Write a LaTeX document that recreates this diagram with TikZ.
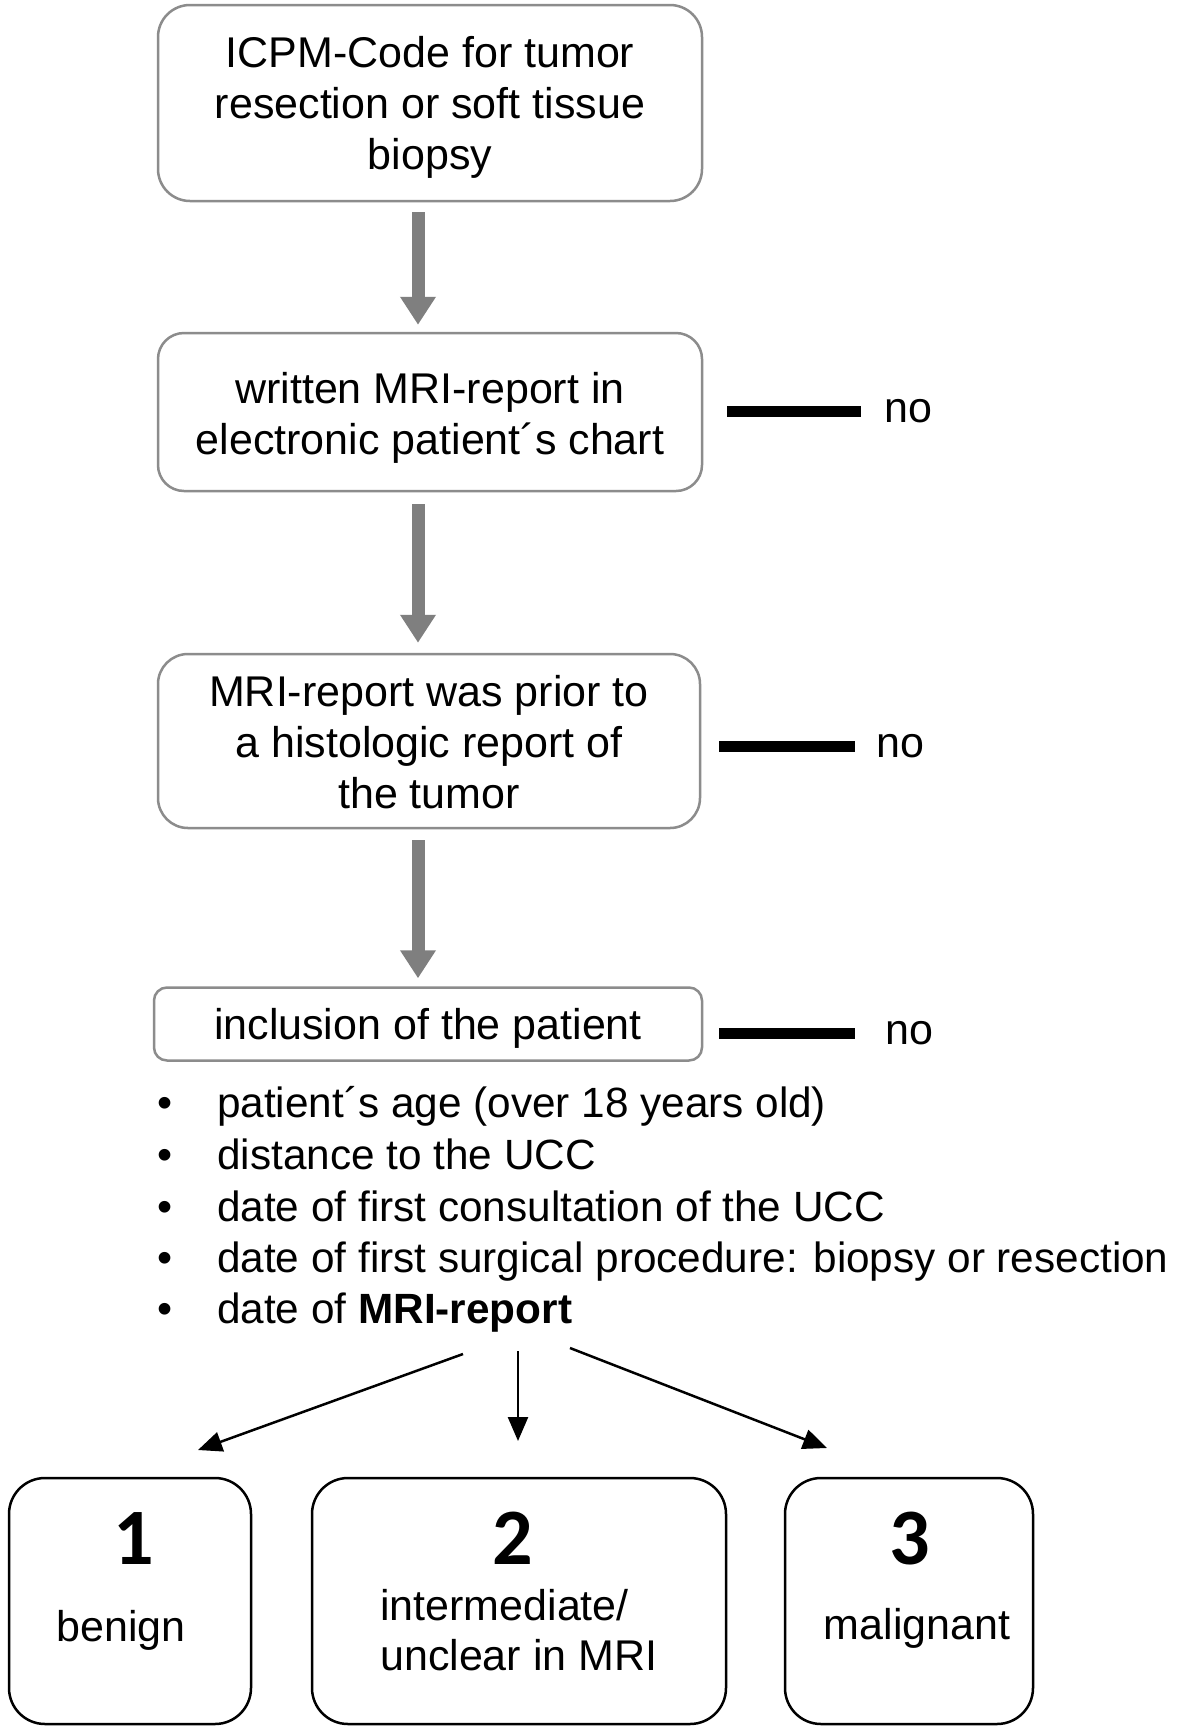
\documentclass[tikz,border=0pt]{standalone}
\usepackage{fontspec}
\setmainfont{Liberation Sans}
\newfontfamily\digitfont{Carlito}
\usetikzlibrary{arrows.meta}
\definecolor{boxgray}{HTML}{8C8C8C}
\definecolor{arrowgray}{HTML}{7F7F7F}
\begin{document}
\begin{tikzpicture}[x=1pt,y=-1pt,
  font=\fontsize{43pt}{51pt}\selectfont,
  flowbox/.style={draw=boxgray, line width=2.5pt, rounded corners=30pt, inner sep=0pt},
  boxtext/.style={align=center, inner sep=0pt},
  resultbox/.style={draw=black, line width=2.5pt, rounded corners=36pt, inner sep=0pt},
  grayarrow/.style={draw=arrowgray, line width=13pt, -{Triangle[width=34pt,length=28pt]}},
  nobar/.style={draw=black, line width=11pt},
  blackarrow/.style={draw=black, line width=2.5pt, -{Triangle[width=20pt,length=24pt]}},
  notext/.style={inner sep=0pt},
  listtext/.style={anchor=base west, inner sep=0pt, font=\fontsize{42.3pt}{51pt}\selectfont},
  digittext/.style={anchor=base, inner sep=0pt, font=\digitfont\bfseries\fontsize{80pt}{82pt}\selectfont},
  restext/.style={inner sep=0pt}]
\fill[white] (0,0) rectangle (1180,1730);
\useasboundingbox (0,0) rectangle (1180,1730);

% flow boxes
\node[flowbox, minimum width=544pt, minimum height=196pt, rounded corners=32pt] (box1) at (430,103) {};
\node[flowbox, minimum width=544pt, minimum height=158pt, rounded corners=26pt] (box2) at (430,412) {};
\node[flowbox, minimum width=542pt, minimum height=174pt, rounded corners=30pt] (box3) at (429,741) {};
\node[flowbox, minimum width=548pt, minimum height=73pt, rounded corners=13pt] (box4) at (428,1024) {};
\node[boxtext] (box1t) at (430,107.5) {ICPM-Code for tumor\\resection or soft tissue\\biopsy};
\node[boxtext] (box2t) at (430,417.5) {written MRI-report in\\electronic patient´s chart};
\node[boxtext] (box3t) at (429,742.5) {MRI-report was prior to\\a histologic report of\\the tumor};
\node[boxtext] (box4t) at (428,1028.5) {inclusion of the patient};

% gray arrows
\coordinate (ax) at (418,0);
\draw[grayarrow, shorten <=10pt, shorten >=7pt] (box1.south -| ax) -- (box2.north -| ax);
\draw[grayarrow, shorten <=12pt, shorten >=10pt] (box2.south -| ax) -- (box3.north -| ax);
\draw[grayarrow, shorten <=11pt, shorten >=8pt] (box3.south -| ax) -- (box4.north -| ax);

% "no" exits
\node[notext] (no1) at (908,411) {no};
\node[notext] (no2) at (900,746) {no};
\node[notext] (no3) at (909,1033) {no};
\draw[nobar, shorten <=24pt, shorten >=23pt] (box2.east |- no1.west) -- (no1.west);
\draw[nobar, shorten <=18pt, shorten >=21pt] (box3.east |- no2.west) -- (no2.west);
\draw[nobar, shorten <=16pt, shorten >=30pt] (box4.east |- no3.west) -- (no3.west);

% bullet list
\node[anchor=base, inner sep=0pt] (d1) at (165,1117) {•};
\node[anchor=base, inner sep=0pt] (d2) at (165,1169) {•};
\node[anchor=base, inner sep=0pt] (d3) at (165,1221) {•};
\node[anchor=base, inner sep=0pt] (d4) at (165,1272) {•};
\node[anchor=base, inner sep=0pt] (d5) at (165,1323) {•};
\node[listtext] (l1) at (217,1117) {patient´s age (over 18 years old)};
\node[listtext] (l2) at (217,1169) {distance to the UCC};
\node[listtext] (l3) at (217,1221) {date of first consultation of the UCC};
\node[listtext] (l4) at (217,1272) {date of first surgical procedure: biopsy or resection};
\node[listtext] (l5) at (217,1323) {date of \textbf{MRI-report}};

% fan arrows
\coordinate (s1) at (463,1354);
\coordinate (e1) at (198,1450);
\coordinate (s2) at (518,1351);
\coordinate (e2) at (518,1441);
\coordinate (s3) at (570,1348);
\coordinate (e3) at (827,1448);
\draw[blackarrow] (s1) -- (e1);
\draw[blackarrow] (s2) -- (e2);
\draw[blackarrow] (s3) -- (e3);

% result boxes
\node[resultbox, minimum width=242pt, minimum height=246pt] (r1) at (130,1601) {};
\node[resultbox, minimum width=414pt, minimum height=246pt] (r2) at (519,1601) {};
\node[resultbox, minimum width=248pt, minimum height=246pt] (r3) at (909,1601) {};

\node[digittext] (n1) at (134,1564) {1};
\node[digittext] (n2) at (513,1564) {2};
\node[digittext] (n3) at (910,1564) {3};
\node[restext, anchor=base] (t1) at (121,1641) {benign};
\node[restext, anchor=base west] (t2a) at (380,1620) {intermediate/};
\node[restext, anchor=base west] (t2b) at (380,1670) {unclear in MRI};
\node[restext, anchor=base] (t3) at (917,1639) {malignant};
\end{tikzpicture}
\end{document}
